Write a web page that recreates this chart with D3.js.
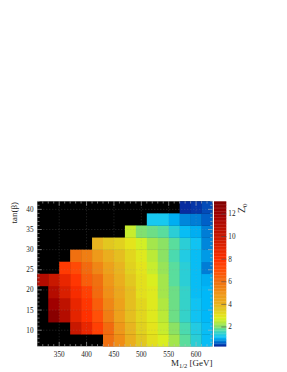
<html>
<head>
<style>
  body { margin: 0; background: white; }
  text { font-family: "Liberation Serif", serif; }
</style>
</head>
<body>
<div id="chart"></div>

<script src="https://cdn.jsdelivr.net/npm/d3@7"></script>

<script type="text/javascript">
// bin centres
var mHalf = [320, 340, 360, 380, 400, 420, 440, 460, 480, 500, 520, 540, 560, 580, 600, 620]
var tanBeta = [7.5, 10.5, 13.5, 16.5, 19.5, 22.5, 25.5, 28.5, 31.5, 34.5, 37.5, 40.5]

// Z_0 per tan(beta) row (same order as tanBeta), null = empty bin
var n = null
var zRows = [
  [n, n, n, n, n, n, 6.0, 5.2, 4.2, 3.6, 3.1, 2.8, 2.3, 1.8, 1.4, 1.1],
  [n, n, n, 10.0, 8.8, 7.5, 6.2, 4.9, 4.0, 3.4, 3.0, 2.6, 2.1, 1.7, 1.3, 1.1],
  [n, 12.8, 11.0, 9.0, 8.0, 7.0, 5.6, 4.6, 3.8, 3.3, 2.9, 2.5, 1.9, 1.5, 1.15, 1.05],
  [n, 12.0, 10.5, 8.8, 7.8, 6.6, 5.4, 4.6, 3.8, 3.3, 2.9, 2.4, 1.9, 1.5, 1.15, 1.05],
  [n, 11.0, 9.4, 8.3, 7.5, 6.2, 5.1, 4.4, 3.8, 3.1, 2.9, 2.3, 1.9, 1.5, 1.1, 1.05],
  [11.0, 10.0, 8.8, 7.8, 6.6, 6.0, 4.9, 4.2, 3.6, 3.1, 2.8, 2.3, 1.8, 1.4, 1.1, 1.0],
  [n, n, 7.7, 7.2, 6.2, 5.4, 4.6, 4.0, 3.4, 3.0, 2.6, 2.2, 1.8, 1.4, 1.1, 0.75],
  [n, n, n, 6.0, 5.6, 4.8, 4.2, 3.8, 3.3, 2.9, 2.5, 2.1, 1.7, 1.3, 1.1, 0.9],
  [n, n, n, n, n, 4.0, 3.6, 3.4, 3.0, 2.7, 2.3, 2.1, 1.8, 1.4, 1.15, 0.8],
  [n, n, n, n, n, n, n, n, 2.6, 2.0, 1.9, 1.8, 1.4, 1.1, 1.0, 0.75],
  [n, n, n, n, n, n, n, n, n, n, 1.2, 1.2, 1.0, 0.8, 0.75, 0.6],
  [n, n, n, n, n, n, n, n, n, n, n, n, n, 0.35, 0.4, 0.5]
]

var xTicks = [350, 400, 450, 500, 550, 600]
var yTicks = [10, 15, 20, 25, 30, 35, 40]
var zTicks = [2, 4, 6, 8, 10, 12]
var zRange = [0.29, 13.12]

var W = 287, H = 372
var pL = 37.3, pR = 212.5, pT = 201.3, pB = 346.3

var svg = d3.select("#chart")
      .append("svg")
      .attr("width", W)
      .attr("height", H)

var x = d3.scaleLinear().domain([310, 630]).range([pL, pR])
var y = d3.scaleLinear().domain([6, 42]).range([pB, pT])
var zy = d3.scaleLinear().domain(zRange).range([pB, pT])

// palette
var cmap = d3.scaleLinear()
      .domain([0.29, 0.6, 0.85, 1.05, 1.2, 1.45, 1.75, 2.0, 2.4, 2.75, 3.0, 3.5, 4.0, 5.0, 6.0, 7.0, 8.0, 10.0, 12.0, 13.12])
      .range(["#0a1e96", "#0060c8", "#0090e0", "#00b8f8", "#18c8f0", "#30d0d0", "#50dca8", "#80e070", "#b0e840", "#d8f020",
              "#e4e41c", "#e0cc20", "#e8b420", "#f09418", "#f07010", "#ff5008", "#ff3000", "#c81800", "#a00000", "#800000"])
      .clamp(true)

// frame background (empty bins)
svg.append("rect")
   .attr("x", pL).attr("y", pT)
   .attr("width", pR - pL).attr("height", pB - pT)
   .style("fill", "black")

var cells = []
tanBeta.forEach(function(t, i){
  mHalf.forEach(function(m, j){
    if (zRows[i][j] != null) cells.push({m: m, t: t, v: zRows[i][j]})
  })
})

svg.append("g").selectAll("rect")
   .data(cells)
   .enter()
   .append("rect")
   .attr("x", d => x(d.m - 10))
   .attr("y", d => y(d.t + 1.5))
   .attr("width", d => Math.min(x(d.m + 10), pR) - x(d.m - 10) + (d.m < 620 ? 0.3 : 0))
   .attr("height", d => y(d.t - 1.5) - y(d.t + 1.5) + 0.3)
   .style("fill", d => cmap(d.v))

// grid
var grid = svg.append("g")
      .style("stroke", "#999")
      .style("stroke-opacity", 0.45)
      .style("stroke-width", 0.6)
      .style("stroke-dasharray", "1,2")
grid.selectAll(".gx").data(xTicks).enter().append("line")
   .attr("x1", d => x(d)).attr("x2", d => x(d))
   .attr("y1", pT).attr("y2", pB)
grid.selectAll(".gy").data(yTicks).enter().append("line")
   .attr("x1", pL).attr("x2", pR)
   .attr("y1", d => y(d)).attr("y2", d => y(d))

// inner ticks on all four sides
var tcol = "#bbbbbb"
var xAll = d3.range(320, 631, 10)
var yAll = d3.range(6, 43, 1)
var tk = svg.append("g").style("stroke", tcol).style("stroke-width", 0.6)
xAll.forEach(function(v){
  var len = (v % 50 == 0) ? 4.5 : 2.2
  tk.append("line").attr("x1", x(v)).attr("x2", x(v)).attr("y1", pB).attr("y2", pB - len)
  tk.append("line").attr("x1", x(v)).attr("x2", x(v)).attr("y1", pT).attr("y2", pT + len)
})
yAll.forEach(function(v){
  var len = (v % 5 == 0) ? 4.5 : 2.2
  tk.append("line").attr("x1", pL).attr("x2", pL + len).attr("y1", y(v)).attr("y2", y(v))
  tk.append("line").attr("x1", pR).attr("x2", pR - len).attr("y1", y(v)).attr("y2", y(v))
})

// tick labels
svg.append("g").selectAll("text")
   .data(xTicks).enter().append("text")
   .attr("x", d => x(d)).attr("y", 356.5)
   .attr("text-anchor", "middle")
   .style("font-size", "7.2px").style("fill", "#222")
   .text(d => d)

svg.append("g").selectAll("text")
   .data(yTicks).enter().append("text")
   .attr("x", 33.5).attr("y", d => y(d) + 2.5)
   .attr("text-anchor", "end")
   .style("font-size", "7.2px").style("fill", "#222")
   .text(d => d)

// axis titles
var xt = svg.append("text")
   .attr("x", 212.5).attr("y", 366)
   .attr("text-anchor", "end")
   .style("font-size", "9px").style("fill", "#222")
xt.append("tspan").text("M")
xt.append("tspan").attr("dy", 2).style("font-size", "6.5px").text("1/2")
xt.append("tspan").attr("dy", -2).text(" [GeV]")

svg.append("text")
   .attr("transform", "translate(17, 202) rotate(-90)")
   .attr("text-anchor", "end")
   .style("font-size", "9px").style("fill", "#222")
   .text("tan(\u03b2)")

var zt = svg.append("text")
   .attr("transform", "translate(245, 203.5) rotate(-90)")
   .attr("text-anchor", "end")
   .style("font-size", "10px").style("fill", "#222")
zt.append("tspan").text("Z")
zt.append("tspan").attr("dy", 2).style("font-size", "7px").text("0")

// colour bar
var cbL = 214, cbR = 226.3
var strips = d3.range(0, 100).map(i => zRange[0] + (zRange[1] - zRange[0]) * i / 100)
var step = (zRange[1] - zRange[0]) / 100
svg.append("g").selectAll("rect")
   .data(strips).enter().append("rect")
   .attr("x", cbL).attr("width", cbR - cbL)
   .attr("y", d => zy(d + step))
   .attr("height", d => zy(d) - zy(d + step) + 0.3)
   .style("fill", d => cmap(d + step / 2))

svg.append("g").selectAll("line")
   .data(zTicks).enter().append("line")
   .attr("x1", cbR).attr("x2", cbR - 5)
   .attr("y1", d => zy(d)).attr("y2", d => zy(d))
   .style("stroke", "#444").style("stroke-width", 0.6)

svg.append("g").selectAll("text")
   .data(zTicks).enter().append("text")
   .attr("x", 228.3).attr("y", d => zy(d) + 2.5)
   .style("font-size", "7.2px").style("fill", "#222")
   .text(d => d)

</script>
</body>
</html>
